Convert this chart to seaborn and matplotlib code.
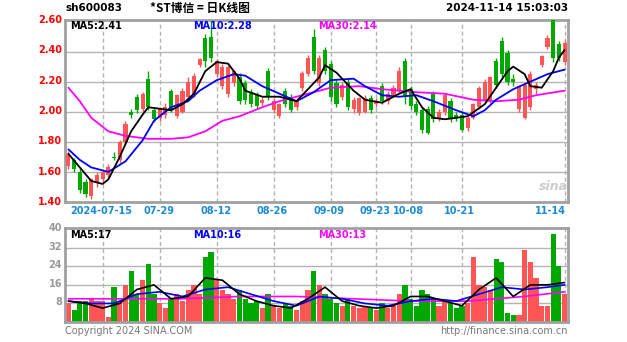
import numpy as np
import pandas as pd
import matplotlib
matplotlib.use("Agg")
import matplotlib.pyplot as plt
import seaborn as sns

# ---------------- data ----------------
dates = ["07-05","07-08","07-09","07-10","07-11","07-12","07-15","07-16","07-17","07-18","07-19",
         "07-22","07-23","07-24","07-25","07-26","07-29","07-30","07-31","08-01","08-02",
         "08-05","08-06","08-07","08-08","08-09","08-12","08-13","08-14","08-15","08-16",
         "08-19","08-20","08-21","08-22","08-23","08-26","08-27","08-28","08-29","08-30",
         "09-02","09-03","09-04","09-05","09-06","09-09","09-10","09-11","09-12","09-13",
         "09-18","09-19","09-20","09-23","09-24","09-25","09-26","09-27","09-30",
         "10-08","10-09","10-10","10-11","10-14","10-15","10-16","10-17","10-18",
         "10-21","10-22","10-23","10-24","10-25","10-28","10-29","10-30","10-31",
         "11-01","11-04","11-05","11-06","11-07","11-08","11-11","11-12","11-13","11-14"]

open_ = [1.64,1.68,1.60,1.53,1.44,1.53,1.55,1.58,1.70,1.68,1.80,
         2.00,2.10,2.02,2.22,2.01,1.96,1.98,2.14,1.97,2.00,
         2.10,2.12,2.31,2.49,2.50,2.25,2.17,2.12,2.19,2.23,
         2.19,2.13,2.12,2.06,2.27,2.01,1.97,2.14,2.10,2.03,
         2.16,2.25,2.50,2.19,2.41,2.32,2.19,2.10,2.20,2.02,
         1.99,2.00,2.09,2.05,2.17,2.07,2.11,2.14,2.34,
         2.15,2.05,2.01,2.02,2.12,1.96,2.00,2.07,1.98,
         1.98,1.89,1.96,2.03,2.08,2.08,2.34,2.47,2.39,
         2.22,2.02,1.96,2.03,2.15,2.31,2.43,2.62,2.45,2.33]
close = [1.72,1.62,1.48,1.45,1.55,1.58,1.60,1.63,1.69,1.80,1.92,
         1.98,2.01,2.12,2.03,1.95,2.02,2.03,2.01,2.11,2.14,
         2.20,2.24,2.35,2.34,2.36,2.34,2.30,2.30,2.27,2.07,
         2.08,2.05,2.04,2.08,2.10,2.07,2.05,2.05,2.01,2.07,
         2.26,2.36,2.27,2.36,2.27,2.10,2.05,2.18,2.03,2.08,
         2.09,2.09,2.01,2.07,2.07,2.12,2.16,2.27,2.10,
         2.04,2.00,1.88,1.86,1.95,2.00,2.11,1.95,1.96,
         1.88,1.96,2.05,2.16,2.20,2.23,2.18,2.25,2.20,
         2.20,2.17,2.18,2.25,2.18,2.37,2.49,2.36,2.36,2.46]
high = [1.74,1.69,1.62,1.55,1.56,1.60,1.62,1.65,1.73,1.81,1.94,
        2.02,2.12,2.13,2.27,2.03,2.03,2.06,2.15,2.12,2.16,
        2.23,2.26,2.36,2.52,2.61,2.35,2.32,2.31,2.28,2.26,
        2.21,2.15,2.13,2.10,2.29,2.09,2.06,2.16,2.12,2.09,
        2.27,2.38,2.55,2.38,2.43,2.34,2.21,2.20,2.22,2.10,
        2.10,2.11,2.11,2.09,2.19,2.14,2.18,2.30,2.36,
        2.17,2.07,2.03,2.04,2.14,2.02,2.12,2.09,2.00,
        2.00,1.97,2.06,2.17,2.22,2.24,2.36,2.50,2.41,
        2.25,2.18,2.20,2.27,2.20,2.38,2.51,2.62,2.47,2.48]
low = [1.62,1.60,1.46,1.43,1.42,1.50,1.53,1.56,1.68,1.66,1.78,
       1.96,1.99,2.00,2.01,1.93,1.94,1.96,2.00,1.96,1.99,
       2.08,2.10,2.30,2.30,2.33,2.23,2.15,2.10,2.17,2.05,
       2.05,2.03,2.02,2.04,2.08,1.99,1.96,2.03,2.00,2.01,
       2.14,2.24,2.25,2.17,2.25,2.07,2.03,2.08,2.01,1.99,
       1.98,1.99,1.99,2.03,2.05,2.05,2.10,2.12,2.05,
       2.02,1.98,1.86,1.85,1.93,1.94,1.98,1.93,1.94,
       1.87,1.87,1.95,2.02,2.07,2.06,2.16,2.22,2.18,
       2.17,2.00,1.95,2.01,2.12,2.30,2.42,2.33,2.34,2.31]
volume = [8,5,9,9,10,9,9,2,15,9,16,
          22,12,18,25,12,8,6,10,12,9,
          14,16,12,28,30,18,14,12,10,14,
          10,8,9,6,12,7,6,8,7,5,
          9,14,22,16,12,10,8,7,10,7,
          6,7,6,5,8,6,7,12,16,
          10,7,14,12,10,7,9,8,6,
          7,8,28,16,15,14,27,26,4,
          3,3,31,26,19,7,7,38,24,12]

# moving-average lines (index, value)
ma5_idx = [0,2,4,6,7,9,11,13,14,16,18,20,22,24,26,28,30,31,34,37,40,42,44,45,47,48,50,52,55,58,60,62,64,66,68,70,73,75,77,78,80,81,83,85,86,87]
ma5_val = [1.72,1.63,1.54,1.52,1.55,1.70,1.87,1.98,2.03,2.02,2.01,2.05,2.12,2.27,2.33,2.32,2.22,2.14,2.10,2.10,2.07,2.15,2.23,2.31,2.26,2.22,2.14,2.08,2.06,2.12,2.15,2.03,1.96,1.95,1.96,1.97,2.05,2.16,2.27,2.30,2.25,2.17,2.16,2.27,2.36,2.41]
ma10_idx = [0,2,4,7,10,13,15,18,21,23,26,29,31,34,37,40,43,46,50,52,55,58,61,64,66,68,71,73,75,78,81,84,87]
ma10_val = [1.75,1.68,1.63,1.60,1.67,1.81,1.94,2.03,2.07,2.14,2.21,2.25,2.24,2.17,2.12,2.07,2.13,2.21,2.22,2.17,2.11,2.10,2.11,2.07,2.04,2.01,1.97,2.01,2.08,2.15,2.20,2.25,2.28]
ma30_idx = [0,2,4,7,10,14,18,21,24,27,30,34,37,41,46,51,55,61,66,71,75,79,82,87]
ma30_val = [2.16,2.07,1.96,1.87,1.84,1.82,1.82,1.83,1.87,1.94,1.97,2.03,2.07,2.11,2.16,2.17,2.15,2.13,2.12,2.08,2.07,2.08,2.11,2.14]

vma5_idx = [0,3,6,9,12,15,18,21,24,27,30,33,36,39,42,45,48,51,54,57,60,63,66,69,72,75,78,81,84,87]
vma5_val = [9,8,6,8,14,16,10,11,19,18,12,9,7,6,10,15,9,7,6,7,11,11,9,7,14,19,11,16,16,17]
vma10_idx = [0,4,8,12,16,20,24,28,32,36,40,44,48,52,56,60,64,68,72,76,80,84,87]
vma10_val = [9,8,8,12,13,11,14,15,12,9,7,11,10,8,7,9,10,9,12,15,14,15,16]
vma30_idx = [0,10,20,30,40,50,60,70,80,87]
vma30_val = [10,10,10,11,11,10,9,9,11,13]

tick_labels = ["2024-07-15","07-29","08-12","08-26","09-09","09-23","10-08","10-21","11-14"]
tick_dates = ["07-15","07-29","08-12","08-26","09-09","09-23","10-08","10-21","11-14"]
price_ticks = [1.40,1.60,1.80,2.00,2.20,2.40,2.60]
vol_ticks = [8,16,24,32,40]

# ---------------- figure ----------------
sns.set_style("white")
plt.rcParams['font.family'] = ['DejaVu Sans', 'Noto Sans CJK SC']

W, H = 627, 342
fig = plt.figure(figsize=(W/100, H/100), dpi=100)
fig.patch.set_facecolor("white")

def box(l, t, r, b):
    return [l/W, 1-b/H, (r-l)/W, (b-t)/H]

ax = fig.add_axes(box(65, 20, 568, 202))
axv = fig.add_axes(box(65, 228, 568, 322))

n = len(dates)
x = np.arange(n)
UP = "#ff5555"
DN = "#00a800"
GRID = "#b4b4b4"
tick_pos = [dates.index(d) for d in tick_dates]

for a in (ax, axv):
    a.set_xlim(-0.6, n - 0.4)
    for s in a.spines.values():
        s.set_color("#a0a0a0")
        s.set_linewidth(2.0)
    a.set_xticks([])
    a.set_yticks([])
    for p in tick_pos:
        a.axvline(p, color=GRID, lw=1.0, ls=(0, (3, 2)), zorder=0)

# price panel
ax.set_ylim(1.40, 2.61)
for v in price_ticks[1:-1]:
    ax.axhline(v, color=GRID, lw=1.0, zorder=0)
o = np.array(open_); c = np.array(close); h = np.array(high); l = np.array(low)
colors = np.where(c >= o, UP, DN)
ax.vlines(x, l, h, colors=colors, lw=1.0, zorder=2)
body = np.maximum(np.abs(c - o), 0.006)
ax.bar(x, body, bottom=np.minimum(o, c), width=0.72, color=colors, zorder=3, linewidth=0)

for idx, val, col in [(ma30_idx, ma30_val, "#ff00ff"), (ma10_idx, ma10_val, "#0000ff"), (ma5_idx, ma5_val, "black")]:
    sns.lineplot(x=idx, y=val, ax=ax, color=col, lw=1.3, zorder=4)

for v in price_ticks:
    fig.text(62/W, 1 - (20 + (2.60 - v) / 1.2 * 182)/H, f"{v:.2f}", color="red",
             fontsize=7, fontweight="bold", ha="right", va="center")

# volume panel
axv.set_ylim(0, 40.5)
for v in vol_ticks[:-1]:
    axv.axhline(v, color=GRID, lw=1.0, zorder=0)
axv.bar(x, volume, width=0.92, color=colors, zorder=2, linewidth=0)
for idx, val, col in [(vma30_idx, vma30_val, "#ff00ff"), (vma10_idx, vma10_val, "#0000ff"), (vma5_idx, vma5_val, "black")]:
    sns.lineplot(x=idx, y=val, ax=axv, color=col, lw=1.2, zorder=4)
for v in vol_ticks:
    fig.text(62/W, 1 - (321 - v / 40 * 93)/H, f"{v}", color="#999999",
             fontsize=7, fontweight="bold", ha="right", va="center")

# date labels
for p, lab in zip(tick_pos, tick_labels):
    xp = 68 + p * (562 - 68) / (n - 1)
    ha = "center"
    if lab.startswith("2024"):
        xp = 70; ha = "left"
    if lab == "11-14":
        xp = 566; ha = "right"
    fig.text(xp/W, 1 - 211/H, lab, color="#1a8ad4", fontsize=7, fontweight="bold", ha=ha, va="center")

# titles / legends
fig.text(65/W, 1 - 8/H, "sh600083", fontsize=7.5, fontweight="bold", color="black", va="center")
fig.text(200/W, 1 - 8/H, "*ST博信 = 日K线图", fontsize=8.5, fontweight="bold", color="black",
         va="center", ha="center", family=["Noto Sans CJK SC", "DejaVu Sans"])
fig.text(568/W, 1 - 8/H, "2024-11-14 15:03:03", fontsize=7.5, fontweight="bold", color="black",
         va="center", ha="right")
fig.text(70/W, 1 - 26/H, "MA5:2.41", fontsize=7, fontweight="bold", color="black", va="center")
fig.text(193/W, 1 - 26/H, "MA10:2.28", fontsize=7, fontweight="bold", color="#0000ff", va="center")
fig.text(318/W, 1 - 26/H, "MA30:2.14", fontsize=7, fontweight="bold", color="#ff00ff", va="center")
fig.text(70/W, 1 - 235/H, "MA5:17", fontsize=7, fontweight="bold", color="black", va="center")
fig.text(193/W, 1 - 235/H, "MA10:16", fontsize=7, fontweight="bold", color="#0000ff", va="center")
fig.text(318/W, 1 - 235/H, "MA30:13", fontsize=7, fontweight="bold", color="#ff00ff", va="center")
fig.text(553/W, 1 - 187/H, "sina", fontsize=9, fontweight="bold", style="italic", color="#cccccc",
         va="center", ha="center")
fig.text(65/W, 1 - 331/H, "Copyright 2024 SINA.COM", fontsize=7, color="#777777", va="center")
fig.text(568/W, 1 - 331/H, "http://finance.sina.com.cn", fontsize=7, color="#777777", va="center", ha="right")

fig.savefig("out.png", dpi=100)
